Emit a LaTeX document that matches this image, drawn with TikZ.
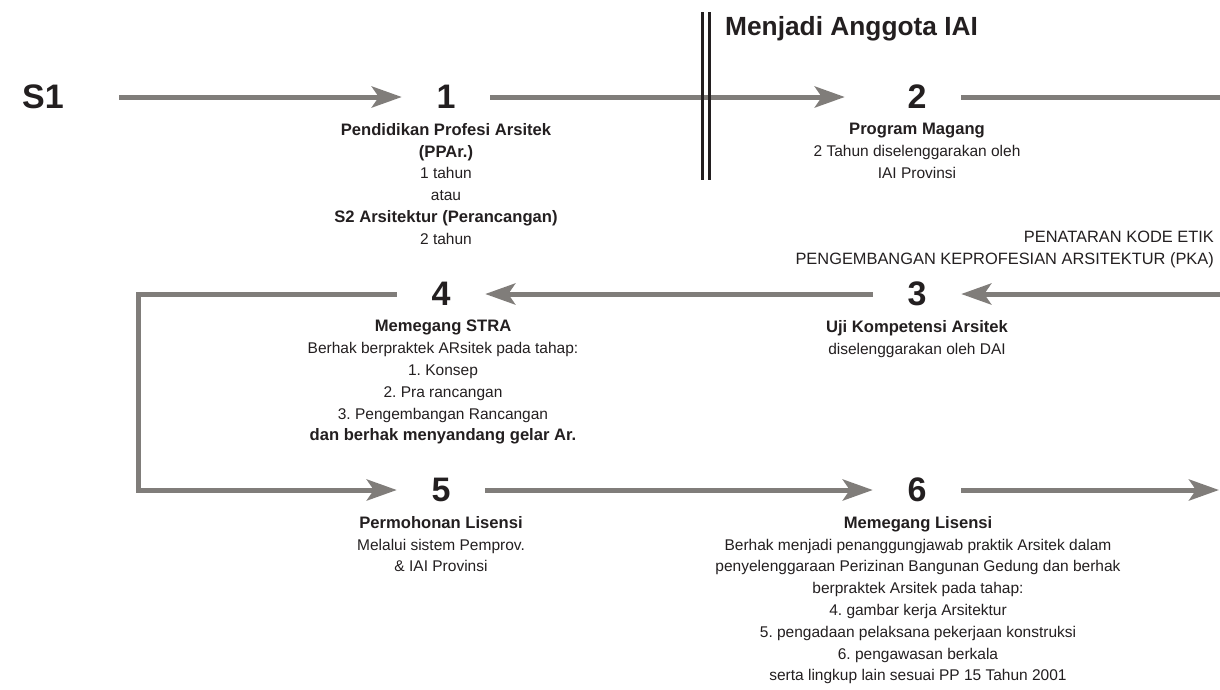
\documentclass[tikz,border=0pt]{standalone}
\usepackage{fontspec}
\setmainfont{Liberation Sans}
\usetikzlibrary{arrows.meta}
\definecolor{arrowgray}{RGB}{128,125,122}
\definecolor{inkblack}{RGB}{35,31,32}
\newcommand{\head}[1]{{\fontsize{16.6}{21.8}\selectfont\bfseries #1}}
\frenchspacing

\begin{document}
\begin{tikzpicture}[x=1pt, y=-1pt,
    num/.style={inner sep=0pt, minimum width=88pt, minimum height=30pt, text=inkblack, font=\fontsize{34}{34}\selectfont\bfseries},
    desc/.style={anchor=north, align=center, inner sep=0pt, text=inkblack, font=\fontsize{15.5}{21.8}\selectfont},
    arr/.style={draw=arrowgray, line width=5pt, -{Stealth[length=30pt, width=21pt, inset=7pt]}},
    plain/.style={draw=arrowgray, line width=5pt}]
    \useasboundingbox (0,0) rectangle (1220,689);

    \node[num, minimum width=152pt] (s1) at (43,97) {S1};
    \node[num] (n1) at (446,97) {1};
    \node[num] (n2) at (917,97) {2};
    \node[num] (n3) at (917,294) {3};
    \node[num] (n4) at (441,294) {4};
    \node[num] (n5) at (441,490) {5};
    \node[num] (n6) at (917,490) {6};

    \node[anchor=base west, inner sep=0pt, text=inkblack, font=\fontsize{26.3}{26}\selectfont\bfseries] (title) at (725,35) {Menjadi Anggota IAI};

    \node[desc] (t1) at (446,123) {\head{Pendidikan Profesi Arsitek}\\\head{(PPAr.)}\\1 tahun\\atau\\\head{S2 Arsitektur (Perancangan)}\\2 tahun};
    \node[desc] (t2) at (917,123) {\head{Program Magang}\\2 Tahun diselenggarakan oleh\\IAI Provinsi};
    \node[desc] (t3) at (917,320) {\head{Uji Kompetensi Arsitek}\\diselenggarakan oleh DAI};
    \node[desc] (t4) at (443,320) {\head{Memegang STRA}\\Berhak berpraktek ARsitek pada tahap:\\1. Konsep\\2. Pra rancangan\\3. Pengembangan Rancangan\\\head{dan berhak menyandang gelar Ar.}};
    \node[desc] (t5) at (441,516) {\head{Permohonan Lisensi}\\Melalui sistem Pemprov.\\\& IAI Provinsi};
    \node[desc] (t6) at (918,516) {\head{Memegang Lisensi}\\Berhak menjadi penanggungjawab praktik Arsitek dalam\\penyelenggaraan Perizinan Bangunan Gedung dan berhak\\berpraktek Arsitek pada tahap:\\4. gambar kerja Arsitektur\\5. pengadaan pelaksana pekerjaan konstruksi\\6. pengawasan berkala\\serta lingkup lain sesuai PP 15 Tahun 2001};
    \node[desc, anchor=north east, align=right, font=\fontsize{16.4}{21.8}\selectfont] (pka) at (1214,231) {PENATARAN KODE ETIK\\PENGEMBANGAN KEPROFESIAN ARSITEKTUR (PKA)};

    \coordinate (out2) at (1222,97);
    \coordinate (in3) at (1222,294);
    \coordinate (out6) at (1219,490);
    \coordinate (turn) at (138,294);

    \draw[arr] (s1) -- (n1);
    \draw[arr, shorten >=28pt] (n1) -- (n2);
    \draw[plain] (n2) -- (out2);
    \draw[arr] (in3) -- (n3);
    \draw[arr] (n3) -- (n4);
    \draw[arr] (n4.west) -- (turn) |- (n5.west);
    \draw[arr] (n5) -- (n6);
    \draw[arr] (n6) -- (out6);

    % divider
    \draw[line width=3pt, inkblack] (702,12) -- (702,180);
    \draw[line width=3pt, inkblack] (709,12) -- (709,180);
\end{tikzpicture}
\end{document}
